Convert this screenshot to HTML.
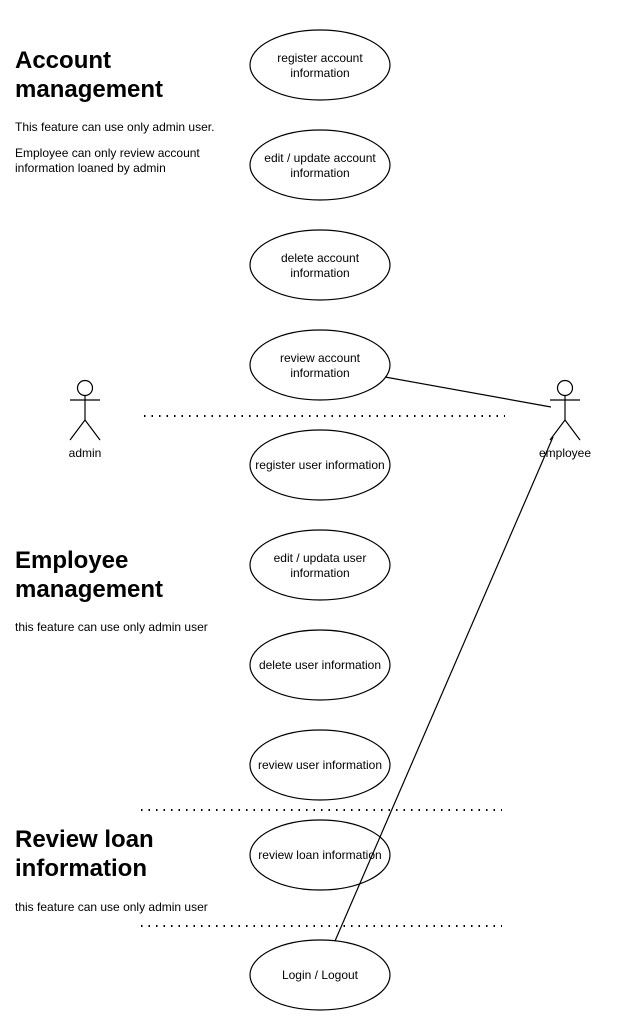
<!DOCTYPE html>
<html><head><meta charset="utf-8"><style>
html,body{margin:0;padding:0;background:#fff;}
svg{display:block;font-family:"Liberation Sans",Arial,sans-serif;}
</style></head><body>
<svg width="641" height="1031" viewBox="0 0 641 1031" xmlns="http://www.w3.org/2000/svg">
<g fill="none" stroke="#000" stroke-width="1.2">
<ellipse cx="320" cy="65" rx="70" ry="35" fill="#fff"/>
<ellipse cx="320" cy="165" rx="70" ry="35" fill="#fff"/>
<ellipse cx="320" cy="265" rx="70" ry="35" fill="#fff"/>
<ellipse cx="320" cy="365" rx="70" ry="35" fill="#fff"/>
<ellipse cx="320" cy="465" rx="70" ry="35" fill="#fff"/>
<ellipse cx="320" cy="565" rx="70" ry="35" fill="#fff"/>
<ellipse cx="320" cy="665" rx="70" ry="35" fill="#fff"/>
<ellipse cx="320" cy="765" rx="70" ry="35" fill="#fff"/>
<ellipse cx="320" cy="855" rx="70" ry="35" fill="#fff"/>
<ellipse cx="320" cy="975" rx="70" ry="35" fill="#fff"/>
<line x1="144" y1="416" x2="505" y2="416" stroke-width="2" stroke-dasharray="1.5 6"/>
<line x1="141" y1="810" x2="502" y2="810" stroke-width="2" stroke-dasharray="1.5 6"/>
<line x1="141" y1="926" x2="502" y2="926" stroke-width="2" stroke-dasharray="1.5 6"/>
<circle cx="85" cy="388" r="7.5"/>
<line x1="85" y1="395.5" x2="85" y2="420"/><line x1="70" y1="400" x2="100" y2="400"/>
<line x1="85" y1="420" x2="70" y2="440"/><line x1="85" y1="420" x2="100" y2="440"/>
<circle cx="565" cy="388" r="7.5"/>
<line x1="565" y1="395.5" x2="565" y2="420"/><line x1="550" y1="400" x2="580" y2="400"/>
<line x1="565" y1="420" x2="550" y2="440"/><line x1="565" y1="420" x2="580" y2="440"/>
<line x1="385" y1="377" x2="551" y2="407"/>
<line x1="335" y1="941" x2="553" y2="437"/>
</g>
<g font-size="12" text-anchor="middle" fill="#000">
<text x="320" y="62">register  account</text><text x="320" y="77">information</text>
<text x="320" y="162">edit / update account</text><text x="320" y="177">information</text>
<text x="320" y="262">delete account</text><text x="320" y="277">information</text>
<text x="320" y="362">review account</text><text x="320" y="377">information</text>
<text x="320" y="469">register user information</text>
<text x="320" y="562">edit / updata user</text><text x="320" y="577">information</text>
<text x="320" y="669">delete user information</text>
<text x="320" y="769">review user information</text>
<text x="320" y="859">review loan information</text>
<text x="320" y="979">Login / Logout</text>
<text x="85" y="457">admin</text>
<text x="565" y="457">employee</text>
</g>
<g font-size="24" font-weight="bold">
<text x="15" y="68">Account</text><text x="15" y="97">management</text>
<text x="15" y="568">Employee</text><text x="15" y="597">management</text>
<text x="15" y="847">Review loan</text><text x="15" y="876">information</text>
</g>
<g font-size="12">
<text x="15" y="131">This feature can use only admin user.</text>
<text x="15" y="157">Employee can  only review account</text>
<text x="15" y="172">information loaned by admin</text>
<text x="15" y="631">this feature can use only admin user</text>
<text x="15" y="911">this feature can use only admin user</text>
</g>
</svg>
</body></html>
